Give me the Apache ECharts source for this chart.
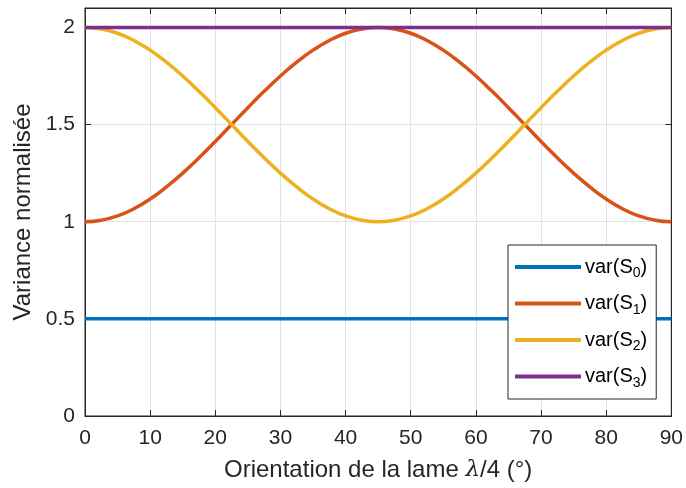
<!DOCTYPE html>
<html><head><meta charset="utf-8">
<script src="https://cdn.jsdelivr.net/npm/echarts@6/dist/echarts.min.js"></script>
<style>html,body{margin:0;padding:0;background:#fff}#c{width:686px;height:488px}</style>
</head><body><div id="c"></div>
<script>
const orientation = [0,2.5,5,7.5,10,12.5,15,17.5,20,22.5,25,27.5,30,32.5,35,37.5,40,42.5,45,47.5,50,52.5,55,57.5,60,62.5,65,67.5,70,72.5,75,77.5,80,82.5,85,87.5,90];
const varS0 = [0.5,0.5,0.5,0.5,0.5,0.5,0.5,0.5,0.5,0.5,0.5,0.5,0.5,0.5,0.5,0.5,0.5,0.5,0.5,0.5,0.5,0.5,0.5,0.5,0.5,0.5,0.5,0.5,0.5,0.5,0.5,0.5,0.5,0.5,0.5,0.5,0.5];
const varS1 = [1.000,1.008,1.030,1.067,1.117,1.179,1.250,1.329,1.413,1.500,1.587,1.671,1.750,1.821,1.883,1.933,1.970,1.992,2.000,1.992,1.970,1.933,1.883,1.821,1.750,1.671,1.587,1.500,1.413,1.329,1.250,1.179,1.117,1.067,1.030,1.008,1.000];
const varS2 = [2.000,1.992,1.970,1.933,1.883,1.821,1.750,1.671,1.587,1.500,1.413,1.329,1.250,1.179,1.117,1.067,1.030,1.008,1.000,1.008,1.030,1.067,1.117,1.179,1.250,1.329,1.413,1.500,1.587,1.671,1.750,1.821,1.883,1.933,1.970,1.992,2.000];
const varS3 = [2,2,2,2,2,2,2,2,2,2,2,2,2,2,2,2,2,2,2,2,2,2,2,2,2,2,2,2,2,2,2,2,2,2,2,2,2];
const seriesNames = ['var(S0)','var(S1)','var(S2)','var(S3)'];
const xTicks = [0,10,20,30,40,50,60,70,80,90];
const yTicks = [0,0.5,1,1.5,2];

const colors = ['#0072BD','#D95319','#EDB120','#7E2F8E'];
const FONT = '"Liberation Sans", Arial, sans-serif';
const pair = a => orientation.map((x,i)=>[x,a[i]]);
const chart = echarts.init(document.getElementById('c'));
const axisLineStyle = {color:'#262626', width:1};
const yFmt = v => yTicks.some(t => Math.abs(t - v) < 1e-9) ? String(v) : '';
const xFmt = v => xTicks.some(t => Math.abs(t - v) < 1e-9) ? String(v) : '';
chart.setOption({
  animation:false,
  color: colors,
  grid:{left:85, right:12, top:8, bottom:72, containLabel:false, show:true, borderColor:'#262626', borderWidth:1, backgroundColor:'transparent'},
  xAxis:[{
    type:'value', min:0, max:90, interval:10,
    name:'Orientation de la lame {l|λ}/4 (°)', nameLocation:'middle', nameGap:42,
    nameTextStyle:{fontFamily:FONT, fontSize:24, color:'#262626', rich:{l:{fontFamily:'"DejaVu Serif", serif', fontStyle:'italic', fontSize:23, color:'#262626'}}},
    axisLine:{onZero:false, lineStyle:axisLineStyle}, axisTick:{inside:true, length:6, lineStyle:axisLineStyle},
    axisLabel:{fontFamily:FONT, fontSize:21, color:'#262626', margin:12, formatter:xFmt},
    splitLine:{show:true, lineStyle:{color:'#e3e3e3', width:1}}
  },{
    type:'value', min:0, max:90, interval:10, position:'top',
    axisLine:{show:true, onZero:false, lineStyle:axisLineStyle}, axisTick:{show:true, inside:true, length:6, lineStyle:axisLineStyle},
    axisLabel:{show:false}, splitLine:{show:false}
  }],
  yAxis:[{
    type:'value', min:0, max:2.1, interval:0.5,
    name:'Variance normalisée', nameLocation:'middle', nameGap:47,
    nameTextStyle:{fontFamily:FONT, fontSize:24, color:'#262626'},
    axisLine:{show:true, onZero:false, lineStyle:axisLineStyle}, axisTick:{show:true, inside:true, length:6, lineStyle:axisLineStyle},
    axisLabel:{fontFamily:FONT, fontSize:21, color:'#262626', margin:10, formatter:yFmt},
    splitLine:{show:true, lineStyle:{color:'#e3e3e3', width:1}}
  },{
    type:'value', min:0, max:2.1, interval:0.5, position:'right',
    axisLine:{show:true, onZero:false, lineStyle:axisLineStyle}, axisTick:{show:true, inside:true, length:6, lineStyle:axisLineStyle},
    axisLabel:{show:false}, splitLine:{show:false}
  }],
  legend:{
    orient:'vertical', left:508, top:245,
    backgroundColor:'#fff', borderColor:'#262626', borderWidth:1, borderRadius:0,
    padding:[12,9,9,7], itemGap:13, itemWidth:66, itemHeight:4, icon:'rect',
    data: seriesNames,
    formatter: n => n.replace(/S(\d)/, 'S{sub|$1}'),
    textStyle:{fontFamily:FONT, fontSize:20, color:'#000', padding:[0,0,0,-1],
      rich:{sub:{fontFamily:FONT, fontSize:14, color:'#000', padding:[13,0,0,0]}}}
  },
  series:[varS0,varS1,varS2,varS3].map((d,i)=>({
    name:seriesNames[i], type:'line', data:pair(d), smooth:true, showSymbol:false,
    lineStyle:{width:3.5, color:colors[i]}, itemStyle:{color:colors[i]}, z:2+i
  }))
});
</script></body></html>
